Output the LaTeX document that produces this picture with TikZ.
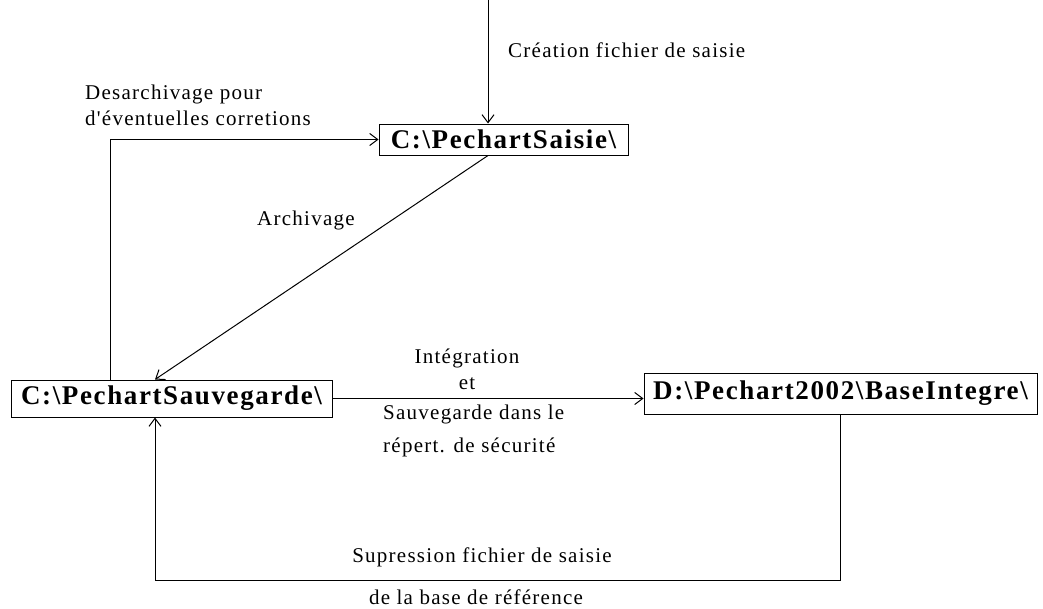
\documentclass[tikz,border=0pt]{standalone}
\usepackage{fontspec}
\setmainfont{Liberation Serif}[LetterSpace=6, Ligatures={TeXOff,CommonOff}]
\usetikzlibrary{shapes, arrows.meta}
\tikzstyle{folder} = [rectangle, draw=black, line width=1pt, inner sep=2pt, text centered, font=\fontsize{27}{30}\selectfont\bfseries]
\tikzstyle{txt} = [inner sep=0pt, font=\fontsize{21}{26}\selectfont]
\tikzstyle{edge} = [line width=1pt, -{Straight Barb[length=8pt, width=12pt]}]

\begin{document}
\begin{tikzpicture}[x=1pt, y=-1pt]
\useasboundingbox (0,0) rectangle (1043,608);

\node (0) [folder, minimum width=249pt, minimum height=31pt] at (503.5,139.5) {C:\textbackslash PechartSaisie\textbackslash};
\node (1) [folder, minimum width=321pt, minimum height=37pt] at (171.5,398.5) {C:\textbackslash PechartSauvegarde\textbackslash};
\node (2) [folder, minimum width=393pt, minimum height=41pt] at (840.5,393.5) {D:\textbackslash Pechart2002\textbackslash BaseIntegre\textbackslash};

\coordinate (top) at (488,0);
\coordinate (corner) at (155,580);

\node (3) [txt, anchor=west] at (508,50) {Création fichier de saisie};
\node (4) [txt, anchor=west, align=left] at (85,105) {Desarchivage pour\\d'éventuelles corretions};
\node (5) [txt] at (306,220) {Archivage};
\node (6) [txt, align=center] at (467,369) {Intégration\\et};
\node (7) [txt, anchor=west, align=left] at (383,431) {Sauvegarde dans le\\[7pt]répert. de sécurité};
\node (8) [txt] at (482,557) {Supression fichier de saisie};
\node (9) [txt] at (476,597) {de la base de référence};

\draw [edge] (top) -- (top |- 0.north);
\draw [edge] ([xshift=-61pt]1.north) |- (0.west);
\draw [edge] (0.south -| top) -- (corner |- 1.north);
\draw [edge] (1.east) -- (1.east -| 2.west);
\draw [edge] (2.south) |- (corner) -- (corner |- 1.south);

\end{tikzpicture}
\end{document}
